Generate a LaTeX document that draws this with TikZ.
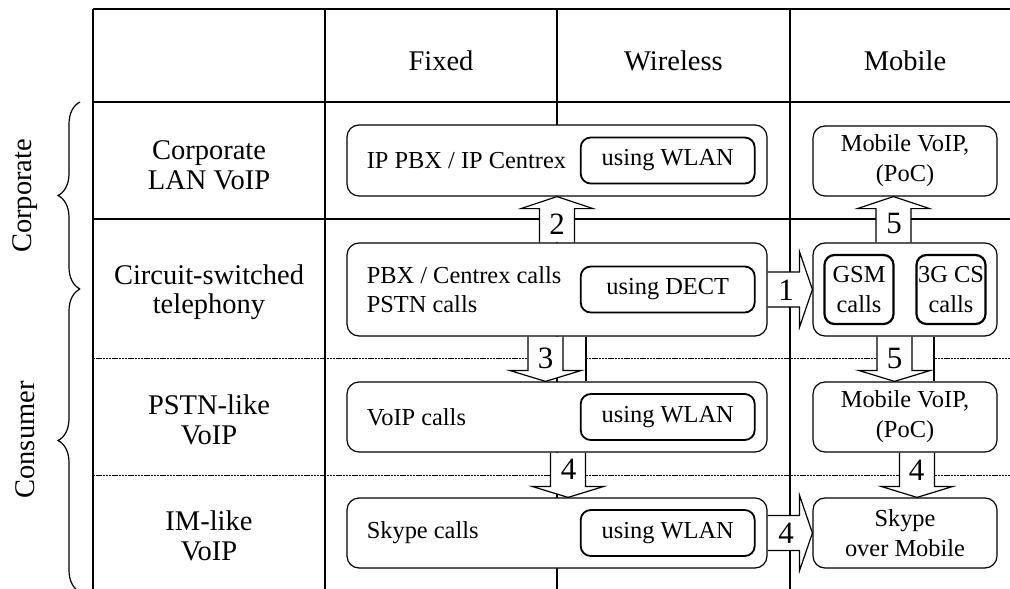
\documentclass[tikz,border=0pt]{standalone}
\usepackage{fontspec}
\setmainfont{Liberation Serif}
\usetikzlibrary{positioning,calc,decorations.pathreplacing}
\pgfdeclarelayer{grid}
\pgfdeclarelayer{arrows}
\pgfsetlayers{grid,arrows,main}

\begin{document}
\begin{tikzpicture}[x=0.5pt, y=-0.5pt,
        gridline/.style={line width=0.6pt},
        sepline/.style={line width=0.5pt, dash pattern=on 1.2pt off 0.4pt},
        rowlabel/.style={font=\fontsize{14.25}{14.8}\selectfont, align=center, inner sep=0pt},
        callbox/.style={draw, line width=0.6pt, rounded corners=6pt, fill=white, inner sep=0pt},
        mobilebox/.style={callbox, minimum width=92pt, minimum height=35pt, align=center, font=\fontsize{12.2}{15}\selectfont},
        calltext/.style={font=\fontsize{12.2}{14.6}\selectfont, align=left, inner sep=0pt},
        viabox/.style={draw, line width=0.9pt, rounded corners=5pt, fill=white, inner sep=0pt, minimum width=87pt, minimum height=23pt, font=\fontsize{12.2}{14.6}\selectfont},
        cellbox/.style={draw, line width=1.1pt, rounded corners=5pt, fill=white, inner sep=0pt, minimum width=34.5pt, minimum height=34.5pt, align=center, font=\fontsize{12.2}{15}\selectfont},
        bigarrow/.style={draw, fill=white, line width=0.6pt},
        arrownum/.style={font=\fontsize{15.5}{15.5}\selectfont, inner sep=0pt},
        callup/.style={to path={let \p1=(\tikztostart), \p2=(\tikztotarget) in
            (\x1-8.75pt,\y1) -- (\x1-8.75pt,\y2-6pt) -- (\x1-18pt,\y2-6pt) -- (\x1,\y2)
            -- (\x1+18pt,\y2-6pt) -- (\x1+8.75pt,\y2-6pt) -- (\x1+8.75pt,\y1)}},
        calldown/.style={to path={let \p1=(\tikztostart), \p2=(\tikztotarget) in
            (\x1-8.75pt,\y1) -- (\x1-8.75pt,\y2+5.5pt) -- (\x1-18pt,\y2+5.5pt) -- (\x1,\y2)
            -- (\x1+18pt,\y2+5.5pt) -- (\x1+8.75pt,\y2+5.5pt) -- (\x1+8.75pt,\y1)}},
        callright/.style={to path={let \p1=(\tikztostart), \p2=(\tikztotarget) in
            (\x1,\y1+8.75pt) -- (\x2-6.5pt,\y1+8.75pt) -- (\x2-6.5pt,\y1+19pt) -- (\x2,\y1)
            -- (\x2-6.5pt,\y1-19pt) -- (\x2-6.5pt,\y1-8.75pt) -- (\x1,\y1-8.75pt)}}
    ]
        \useasboundingbox (0,0) rectangle (1010,588);
        \clip (0,0) rectangle (1010,588);

        \begin{pgfonlayer}{grid}
            \draw[gridline] (93,9) -- (1022,9);
            \draw[gridline] (93,102) -- (1022,102);
            \draw[gridline] (93,219) -- (1022,219);
            \draw[sepline] (93,358) -- (1022,358);
            \draw[sepline] (93,475) -- (1022,475);
            \foreach \x in {93,325,557,790}
                \draw[gridline] (\x,9) -- (\x,592);
        \end{pgfonlayer}

        \node[rowlabel] (hfixed) at (441,61) {Fixed};
        \node[rowlabel] (hwireless) at (673.5,61) {Wireless};
        \node[rowlabel] (hmobile) at (905,61) {Mobile};

        \node[rowlabel] (rlan) at (209,165) {Corporate\\LAN VoIP};
        \node[rowlabel] (rcs) at (209,292) {Circuit-switched\\telephony};
        \node[rowlabel] (rpstn) at (209,420) {PSTN-like\\VoIP};
        \node[rowlabel] (rim) at (209,536) {IM-like\\VoIP};

        \node[rowlabel, rotate=90] (corp) at (25,196) {Corporate};
        \node[rowlabel, rotate=90] (cons) at (25,440) {Consumer};
        \draw[decorate, decoration={brace, amplitude=11pt}, line width=0.6pt] (80,289) -- (80,102);
        \draw[decorate, decoration={brace, amplitude=11pt}, line width=0.6pt] (80,592) -- (80,289);

        \node[callbox, minimum width=210pt, minimum height=35.5pt] (pbx) at (557,160.5) {};
        \node[viabox] (wlan1) [left=6pt of pbx.east] {using WLAN};
        \node[calltext] (pbxtext) [right=10pt of pbx.west] {IP PBX / IP Centrex};

        \node[callbox, minimum width=210pt, minimum height=46.5pt] (circ) at (557,289.5) {};
        \node[viabox] (dect) [left=6pt of circ.east] {using DECT};
        \node[calltext] (circtext) [right=10pt of circ.west] {PBX / Centrex calls\\PSTN calls};

        \node[callbox, minimum width=210pt, minimum height=35pt] (voip) at (557,417) {};
        \node[viabox] (wlan2) [left=6pt of voip.east] {using WLAN};
        \node[calltext] (voiptext) [right=10pt of voip.west] {VoIP calls};

        \node[callbox, minimum width=210pt, minimum height=35pt] (skype) at (557,533) {};
        \node[viabox] (wlan3) [left=6pt of skype.east] {using WLAN};
        \node[calltext] (skypetext) [right=10pt of skype.west] {Skype calls};

        \node[mobilebox] (mvoip1) at (905,161) {Mobile VoIP,\\(PoC)};
        \node[mobilebox, minimum height=46.5pt] (gsmbox) at (905,289.5) {};
        \node[cellbox] (gsm) [right=5.5pt of gsmbox.west] {GSM\\calls};
        \node[cellbox] (umts) [left=5.5pt of gsmbox.east] {3G CS\\calls};
        \node[mobilebox] (mvoip2) at (905,417) {Mobile VoIP,\\(PoC)};
        \node[mobilebox] (skmob) at (905,533) {Skype\\over Mobile};

        \coordinate (up2) at (557,0);
        \coordinate (down3) at (545.5,0);
        \coordinate (down4) at (568,0);
        \coordinate (up5) at (893.5,0);
        \coordinate (down5) at (894.5,0);
        \coordinate (down4m) at (917,0);
        \coordinate (stub3) at (586,0);
        \coordinate (stub5) at (934,0);

        \begin{pgfonlayer}{arrows}
            \fill[white] (563,337) rectangle (586,381);
            \fill[white] (912,337) rectangle (934,381);
            \draw[gridline] (circ.south -| stub3) -- (voip.north -| stub3);
            \draw[gridline] (gsmbox.south -| stub5) -- (mvoip2.north -| stub5);
            \draw[bigarrow] (circ.east) to[callright] (gsmbox.west);
            \draw[bigarrow] (circ.north -| up2) to[callup] (pbx.south -| up2);
            \draw[bigarrow] (circ.south -| down3) to[calldown] (voip.north -| down3);
            \draw[bigarrow] (voip.south -| down4) to[calldown] (skype.north -| down4);
            \draw[bigarrow] (skype.east) to[callright] (skmob.west);
            \draw[bigarrow] (gsmbox.north -| up5) to[callup] (mvoip1.south -| up5);
            \draw[bigarrow] (gsmbox.south -| down5) to[calldown] (mvoip2.north -| down5);
            \draw[bigarrow] (mvoip2.south -| down4m) to[calldown] (skmob.north -| down4m);
        \end{pgfonlayer}

        \node[arrownum] (n1) at (786,290) {1};
        \node[arrownum] (n2) at (557,224) {2};
        \node[arrownum] (n3) at (545.5,358) {3};
        \node[arrownum] (n4) at (568.5,469) {4};
        \node[arrownum] (n5) at (894,224) {5};
        \node[arrownum] (n6) at (894.5,358) {5};
        \node[arrownum] (n7) at (916.5,470) {4};
        \node[arrownum] (n8) at (786,533) {4};
    \end{tikzpicture}
\end{document}
